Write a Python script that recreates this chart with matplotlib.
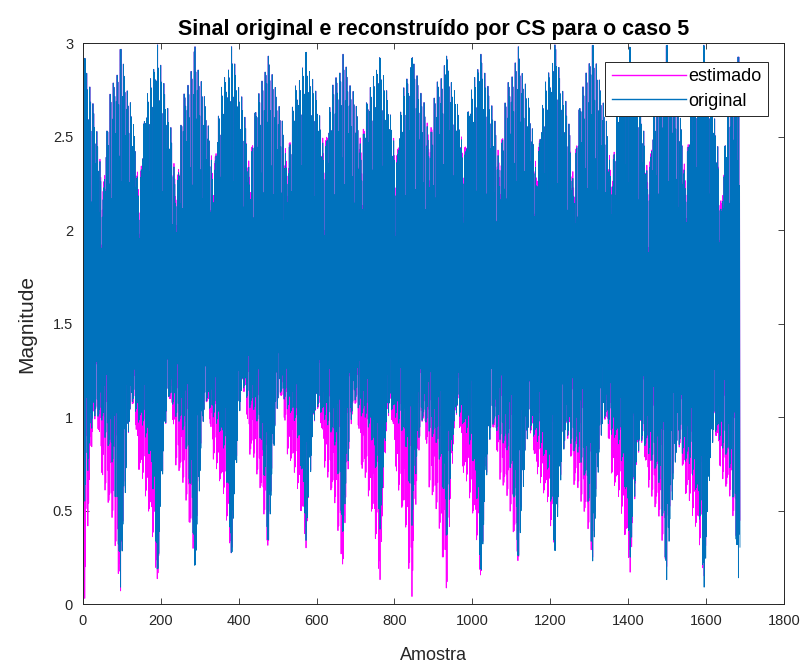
import numpy as np
import matplotlib
matplotlib.use("Agg")
import matplotlib.pyplot as plt

plt.rcParams['font.family'] = ['Liberation Sans', 'DejaVu Sans']

# posicao (amostra) do pico de cada ciclo
centros = [5, 97, 192, 288, 382, 476, 573, 668, 763, 845, 934, 1022, 1118,
           1212, 1309, 1405, 1499, 1595, 1683]
# maximo do original em cada ciclo
topo_pico = [2.93, 2.98, 2.99, 2.98, 2.98, 2.93, 2.96, 2.94, 2.93, 2.93, 2.93,
             2.94, 2.98, 2.99, 3.0, 2.99, 3.0, 3.0, 2.94]
# vale do envelope superior antes de cada ciclo (+ um no fim)
topo_vale = [2.2, 2.12, 2.14, 2.12, 2.21, 2.26, 2.29, 2.35, 2.4, 2.29, 2.43,
             2.34, 2.29, 2.24, 2.21, 2.21, 2.18, 2.24, 2.07, 2.0]
# maior valor do envelope inferior entre ciclos
fundo_teto = [1.0, 1.02, 1.08, 1.11, 1.09, 1.16, 1.14, 1.06, 1.09, 1.06, 0.99,
              1.03, 0.97, 0.94, 0.9, 1.0, 0.88, 0.85, 0.94, 0.95]
# minimo de cada ciclo
min_orig = [0.55, 0.09, 0.15, 0.17, 0.24, 0.31, 0.34, 0.36, 0.40, 0.42, 0.34,
            0.15, 0.23, 0.26, 0.23, 0.25, 0.13, 0.09, 0.14]
min_est = [0.03, 0.07, 0.12, 0.2, 0.26, 0.3, 0.3, 0.2, 0.13, 0.04, 0.07,
           0.14, 0.22, 0.3, 0.25, 0.17, 0.2, 0.15, 0.3]

# forma de um ciclo (fase -0.5 .. 0.5)
fase = [-0.5, -0.4, -0.3, -0.2, -0.1, 0.0, 0.1, 0.2, 0.3, 0.4, 0.5]
forma_topo = [0.0, 0.45, 0.7, 0.78, 0.85, 1.0, 0.85, 0.72, 0.6, 0.4, 0.0]
extra_topo_est = [0.05, 0.0, 0, 0, 0, 0, 0, 0, 0, 0.0, 0.05]
forma_fundo_orig = [0.12, 0.15, 0.22, 0.35, 0.62, 1.0, 0.6, 0.18, 0.0, 0.05, 0.12]
forma_fundo_est = [0.4, 0.45, 0.55, 0.65, 0.85, 1.0, 0.55, 0.18, 0.0, 0.12, 0.4]
# fracao da amplitude em cada amostra (padrao repetido)
jitter = [1.0, 0.82, 0.97, 0.6, 0.92, 1.0, 0.75, 0.95, 0.88, 0.5, 0.98, 0.85, 0.93]

n_amostras = 1687
nivel = 1.58

n = np.arange(1, n_amostras + 1)
c = np.array(centros, float)
idx = np.interp(n, c, np.arange(len(c)))
idx = np.where(n < c[0], (n - c[0]) / 94.0, idx)
idx = np.where(n > c[-1], len(c) - 1 + (n - c[-1]) / 94.0, idx)
k = np.clip(np.round(idx).astype(int), 0, len(c) - 1)
p = np.clip(idx - k, -0.5, 0.5)

vale = np.where(p < 0, np.array(topo_vale)[k], np.array(topo_vale)[k + 1])
teto = np.where(p < 0, np.array(fundo_teto)[k], np.array(fundo_teto)[k + 1])

sup_orig = vale + (np.array(topo_pico)[k] - vale) * np.interp(p, fase, forma_topo)
sup_est = sup_orig + np.interp(p, fase, extra_topo_est)
inf_orig = teto - (teto - np.array(min_orig)[k]) * np.interp(p, fase, forma_fundo_orig)
inf_est = teto - (teto - np.array(min_est)[k]) * np.interp(p, fase, forma_fundo_est)

j = np.array(jitter)[n % len(jitter)]
j = np.where(np.abs(p) * 94 < 1.6, 1.0, j)
cima = (n % 2 == 0)
original = np.where(cima, nivel + (sup_orig - nivel) * j, nivel - (nivel - inf_orig) * j)
estimado = np.where(cima, nivel + (sup_est - nivel) * j, nivel - (nivel - inf_est) * j)

fig = plt.figure(figsize=(8.12, 6.68), dpi=100)
ax = fig.add_axes([0.102, 0.0958, 0.8635, 0.8398])
ax.plot(n, estimado, color=(1, 0, 1), lw=0.6, label='estimado')
ax.plot(n, original, color='#0072BD', lw=0.6, label='original')

ax.set_xlim(0, 1800)
ax.set_ylim(0, 3)
ax.set_xticks(np.arange(0, 1801, 200))
ax.set_yticks([0, 0.5, 1, 1.5, 2, 2.5, 3])
ax.set_yticklabels(['0', '0.5', '1', '1.5', '2', '2.5', '3'])
ax.tick_params(direction='in', top=True, right=True, length=4, width=0.6,
               labelsize=10.5, colors='#262626', pad=7)
for s in ax.spines.values():
    s.set_linewidth(0.7)
    s.set_color('#262626')

ax.set_xlabel('Amostra', fontsize=13, color='#262626', labelpad=14)
ax.set_ylabel('Magnitude', fontsize=15, color='#262626', labelpad=12)
ax.set_title('Sinal original e reconstruído por CS para o caso 5',
             fontsize=15.5, fontweight='bold', pad=6)

leg = ax.legend(loc='upper right', bbox_to_anchor=(0.977, 0.966), borderaxespad=0,
                fontsize=13, handlelength=4.1, fancybox=False, framealpha=1,
                edgecolor='#262626', borderpad=0.35, labelspacing=0.4,
                handletextpad=0.15)
leg.get_frame().set_linewidth(0.7)
for h in leg.get_lines():
    h.set_linewidth(1.0)

fig.savefig('out.png', dpi=100)
